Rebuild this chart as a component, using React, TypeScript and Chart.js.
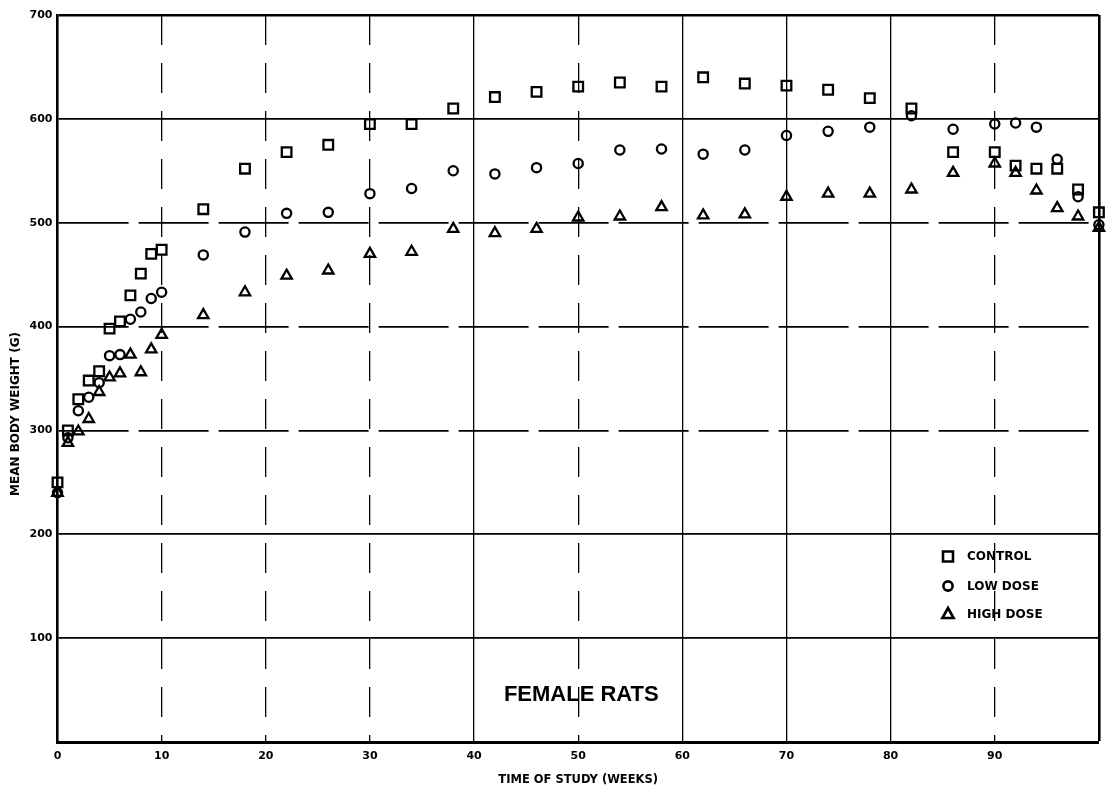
import React, { useEffect, useRef } from 'react';
import { Chart, registerables } from 'chart.js';

Chart.register(...registerables);

// weeks on study at which the groups were weighed
const weeks = [0, 1, 2, 3, 4, 5, 6, 7, 8, 9, 10, 14, 18, 22, 26, 30, 34, 38, 42, 46, 50, 54, 58, 62, 66, 70, 74, 78, 82, 86, 90, 92, 94, 96, 98, 100];

// mean body weight (g)
const control = [250, 300, 330, 348, 357, 398, 405, 430, 451, 470, 474, 513, 552, 568, 575, 595, 595, 610, 621, 626, 631, 635, 631, 640, 634, 632, 628, 620, 610, 568, 568, 555, 552, 552, 532, 510];
const lowDose = [240, 293, 319, 332, 346, 372, 373, 407, 414, 427, 433, 469, 491, 509, 510, 528, 533, 550, 547, 553, 557, 570, 571, 566, 570, 584, 588, 592, 603, 590, 595, 596, 592, 561, 525, 498];
const highDose = [240, 288, 299, 311, 337, 351, 355, 373, 356, 378, 392, 411, 433, 449, 454, 470, 472, 494, 490, 494, 505, 506, 515, 507, 508, 525, 528, 528, 532, 548, 557, 548, 531, 514, 506, 495];

const seriesNames = ['CONTROL', 'LOW DOSE', 'HIGH DOSE'];
const xTickValues = [0, 10, 20, 30, 40, 50, 60, 70, 80, 90];
const yTickValues = [100, 200, 300, 400, 500, 600, 700];

// broken-looking grid lines of the original plate
const dashedWeeks = [10, 20, 30, 50, 90];
const dashedWeights = [300, 400, 500];

const FONT = '"DejaVu Sans", Verdana, sans-serif';
const INK = '#000';

const toPoints = (ys: number[]) => weeks.map((w, i) => ({ x: w, y: ys[i] }));

function strokeMarker(ctx: CanvasRenderingContext2D, style: string, x: number, y: number) {
  ctx.beginPath();
  if (style === 'rect') {
    ctx.rect(x - 5, y - 5, 10, 10);
  } else if (style === 'circle') {
    ctx.arc(x, y, 4.6, 0, Math.PI * 2);
  } else {
    ctx.moveTo(x, y - 6);
    ctx.lineTo(x + 5.6, y + 4);
    ctx.lineTo(x - 5.6, y + 4);
    ctx.closePath();
  }
  ctx.stroke();
}

const platePlugin = {
  id: 'plate',
  afterDraw(chart: any) {
    const { ctx, scales } = chart;
    const xs = scales.x;
    const ys = scales.y;
    ctx.save();
    ctx.fillStyle = INK;
    ctx.strokeStyle = INK;

    // y axis title
    ctx.save();
    ctx.translate(15.5, 414);
    ctx.rotate(-Math.PI / 2);
    ctx.font = `bold 12px ${FONT}`;
    ctx.textAlign = 'center';
    ctx.textBaseline = 'middle';
    ctx.fillText('MEAN BODY WEIGHT (G)', 0, 0);
    ctx.restore();

    // panel label
    ctx.font = 'bold 22px "Liberation Sans", Arial, sans-serif';
    ctx.textAlign = 'center';
    ctx.textBaseline = 'middle';
    ctx.fillText('FEMALE RATS', xs.getPixelForValue(50.3), ys.getPixelForValue(45));

    // key
    const styles = ['rect', 'circle', 'triangle'];
    const rows = [556.5, 586, 614];
    ctx.lineWidth = 2.6;
    ctx.font = `bold 12px ${FONT}`;
    ctx.textAlign = 'left';
    seriesNames.forEach((name, i) => {
      strokeMarker(ctx, styles[i], 948, rows[i]);
      ctx.fillText(name, 967, rows[i] + 0.5);
    });
    ctx.restore();
  },
};

const App: React.FC = () => {
  const canvasRef = useRef<HTMLCanvasElement>(null);

  useEffect(() => {
    if (!canvasRef.current) return;
    const tickFont = { family: FONT, size: 11, weight: 'bold' as const };

    const dataset = (label: string, ys: number[], pointStyle: string, radius: number) => ({
      label,
      data: toPoints(ys),
      pointStyle,
      pointRadius: radius,
      pointHoverRadius: radius,
      pointBorderWidth: 2.3,
      borderColor: INK,
      backgroundColor: 'rgba(0,0,0,0)',
      showLine: false,
      clip: false as const,
    });

    const chart = new Chart(canvasRef.current, {
      type: 'scatter',
      data: {
        datasets: [
          dataset(seriesNames[0], control, 'rect', 6.8),
          dataset(seriesNames[1], lowDose, 'circle', 4.6),
          dataset(seriesNames[2], highDose, 'triangle', 6),
        ],
      },
      options: {
        animation: false,
        responsive: true,
        maintainAspectRatio: false,
        layout: { padding: { top: 15, right: 5, left: 0, bottom: 0 } },
        plugins: {
          legend: { display: false },
          tooltip: { enabled: false },
        },
        scales: {
          x: {
            type: 'linear',
            min: 0,
            max: 100,
            afterFit: (s: any) => {
              s.height = 53;
            },
            ticks: {
              stepSize: 10,
              autoSkip: false,
              maxRotation: 0,
              padding: 8,
              color: INK,
              font: tickFont,
              callback: (v: any) => (xTickValues.includes(Number(v)) ? String(v) : ''),
            },
            grid: {
              color: INK,
              drawTicks: false,
              lineWidth: (c: any) => (c.tick && c.tick.value === 0 ? 0 : c.tick && c.tick.value === 100 ? 2.6 : 1.3),
            },
            border: {
              color: INK,
              width: 3,
              dash: (c: any) => (c.tick && dashedWeeks.includes(c.tick.value) ? [30, 18] : []),
            },
            title: {
              display: true,
              text: 'TIME OF STUDY (WEEKS)',
              color: INK,
              font: { family: FONT, size: 11.5, weight: 'bold' },
              padding: { top: 0, bottom: 8 },
            },
          },
          y: {
            type: 'linear',
            min: 0,
            max: 700,
            afterFit: (s: any) => {
              s.width = 57.5;
            },
            ticks: {
              stepSize: 100,
              padding: 5,
              color: INK,
              font: tickFont,
              callback: (v: any) => (yTickValues.includes(Number(v)) ? String(v) : ''),
            },
            grid: {
              color: INK,
              drawTicks: false,
              lineWidth: (c: any) => (c.tick && c.tick.value === 0 ? 0 : c.tick && c.tick.value === 700 ? 2.6 : 1.8),
            },
            border: {
              color: INK,
              width: 2.6,
              dash: (c: any) => (c.tick && dashedWeights.includes(c.tick.value) ? [70, 10] : []),
            },
          },
        },
      },
      plugins: [platePlugin],
    });

    return () => {
      chart.destroy();
    };
  }, []);

  return (
    <div style={{ position: 'absolute', left: 0, top: 0, width: 1108, height: 795, background: '#fff' }}>
      <canvas ref={canvasRef}></canvas>
    </div>
  );
};

export default App;
